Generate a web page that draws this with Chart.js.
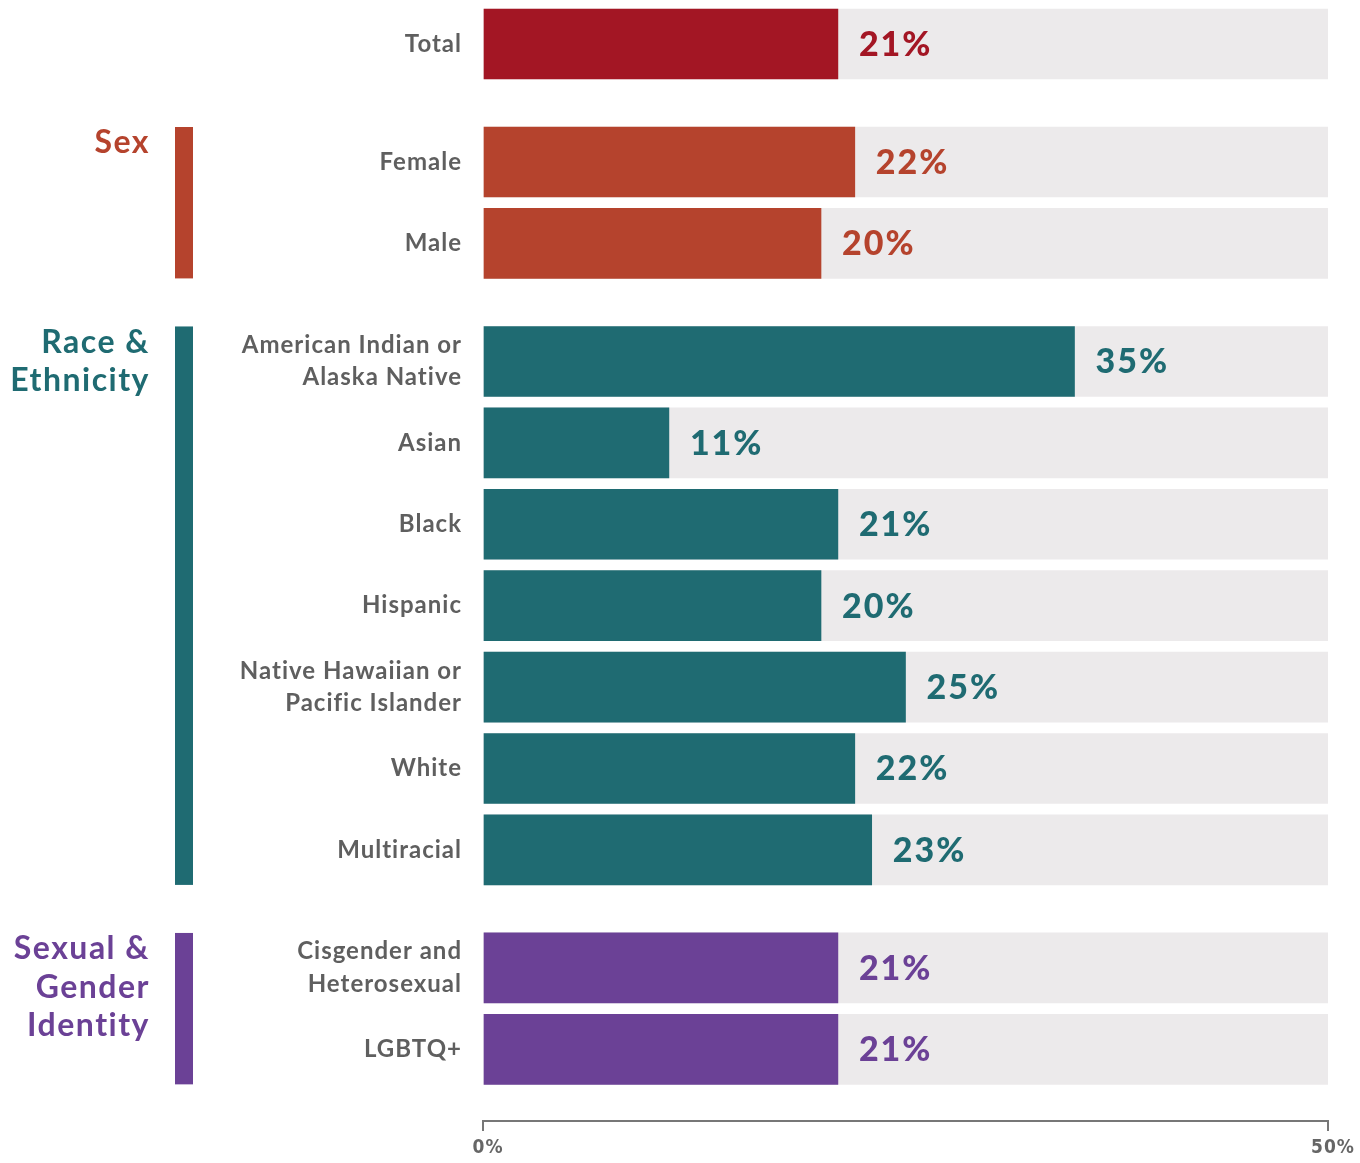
<!DOCTYPE html>
<html>
<head>
<meta charset="utf-8">
<script src="https://cdn.jsdelivr.net/npm/chart.js@4"></script>
<style>
  html, body { margin: 0; padding: 0; background: #fff; }
  #wrap { width: 1360px; height: 1163px; }
</style>
</head>
<body>
<div id="wrap"><canvas id="chart"></canvas></div>
<script>
// values (percent)
const totalLabels = ['Total'];
const totalValues = [21];

const sexLabels = ['Female', 'Male'];
const sexValues = [22, 20];

const raceLabels = [
    ['American Indian or', 'Alaska Native'], 'Asian', 'Black', 'Hispanic',
    ['Native Hawaiian or', 'Pacific Islander'], 'White', 'Multiracial'
];
const raceValues = [35, 11, 21, 20, 25, 22, 23];

const sgiLabels = [['Cisgender and', 'Heterosexual'], 'LGBTQ+'];
const sgiValues = [21, 21];

const axisTicks = [0, 50];

const groups = [
    { title: [], labels: totalLabels, values: totalValues, color: '#A31624' },
    { title: ['Sex'], labels: sexLabels, values: sexValues, color: '#B5432D' },
    { title: ['Race &', 'Ethnicity'], labels: raceLabels, values: raceValues, color: '#1F6B72' },
    { title: ['Sexual &', 'Gender', 'Identity'], labels: sgiLabels, values: sgiValues, color: '#6B4196' }
];

const GROUP_GAP = 0.45;
const FONT = 'Lato, "Open Sans", sans-serif';

// flatten groups into rows; the extra gap between groups sets the row position
let rows = [];
let n = 0;
groups.forEach((g, gi) => {
    g.values.forEach((v, i) => {
        rows.push({ label: g.labels[i], value: v, color: g.color, pos: n + gi * GROUP_GAP });
        n++;
    });
});

const Y_MIN = -0.54;
const Y_MAX = rows[rows.length - 1].pos + 0.88;

const spacing = {
    id: 'spacing',
    beforeDraw(chart) {
        chart.ctx.letterSpacing = '1px';
    }
};

const decor = {
    id: 'decor',
    afterDatasetsDraw(chart) {
        const ctx = chart.ctx;
        const bars = chart.getDatasetMeta(0).data;
        ctx.save();

        // value labels
        ctx.letterSpacing = '2px';
        ctx.font = '900 34px ' + FONT;
        ctx.textAlign = 'left';
        ctx.textBaseline = 'middle';
        bars.forEach((bar, i) => {
            ctx.fillStyle = rows[i].color;
            ctx.fillText(rows[i].value + '%', bar.x + 21, bar.y + 1);
        });

        // group titles + side bars
        ctx.letterSpacing = '1.5px';
        let start = 0;
        groups.forEach(g => {
            const first = bars[start];
            const last = bars[start + g.values.length - 1];
            start += g.values.length;
            if (!g.title.length) return;
            const top = first.y - first.height / 2;
            const bottom = last.y + last.height / 2;
            ctx.fillStyle = g.color;
            ctx.fillRect(175, top, 18, bottom - top);
            ctx.font = 'bold 32px ' + FONT;
            ctx.textAlign = 'right';
            g.title.forEach((t, k) => {
                ctx.fillText(t, 150, top + 16 + k * 38.5);
            });
        });
        ctx.restore();
    }
};

new Chart(document.getElementById('chart'), {
    type: 'bar',
    data: {
        datasets: [
            {
                data: rows.map(r => ({ x: r.value, y: r.pos })),
                backgroundColor: rows.map(r => r.color),
                grouped: false,
                barThickness: 70
            },
            {
                data: rows.map(r => ({ x: axisTicks[1], y: r.pos })),
                backgroundColor: '#ECEAEB',
                grouped: false,
                barThickness: 70
            }
        ]
    },
    options: {
        indexAxis: 'y',
        responsive: true,
        maintainAspectRatio: false,
        animation: false,
        layout: { autoPadding: false, padding: { top: 0, right: 32, bottom: 0, left: 0 } },
        plugins: { legend: { display: false }, tooltip: { enabled: false } },
        scales: {
            x: {
                type: 'linear',
                min: axisTicks[0],
                max: axisTicks[1],
                afterBuildTicks: s => { s.ticks = axisTicks.map(v => ({ value: v })); },
                afterFit: s => { s.height = 42; },
                grid: { drawOnChartArea: false, color: '#777', lineWidth: 2, tickLength: 10 },
                border: { color: '#777', width: 2 },
                ticks: {
                    callback: v => v + '%',
                    color: '#666',
                    padding: 6,
                    labelOffset: 5,
                    font: { family: '"DejaVu Sans Condensed", ' + FONT, weight: 'bold', size: 19 }
                }
            },
            y: {
                type: 'linear',
                offset: false,
                bounds: 'data',
                reverse: true,
                min: Y_MIN,
                max: Y_MAX,
                afterBuildTicks: s => {
                    s.min = Y_MIN;
                    s.max = Y_MAX;
                    s.ticks = rows.map(r => ({ value: r.pos }));
                },
                afterFit: s => {
                    s.width = 483;
                    s.paddingTop = 0;
                    s.paddingBottom = 0;
                },
                grid: { display: false, drawTicks: false },
                border: { display: false },
                ticks: {
                    callback: (v, i) => rows[i].label,
                    color: '#5F5F5F',
                    padding: 21,
                    font: { family: FONT, weight: 'bold', size: 24, lineHeight: 1.35 }
                }
            }
        }
    },
    plugins: [spacing, decor]
});
</script>
</body>
</html>
